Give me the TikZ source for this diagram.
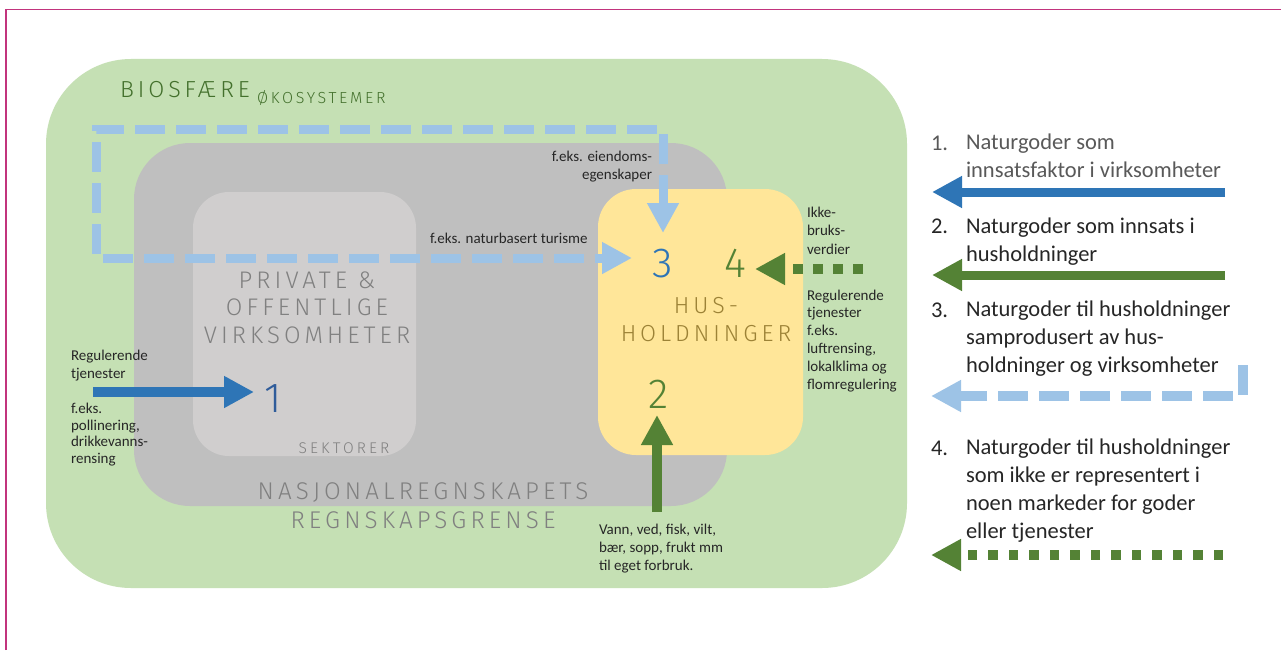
\documentclass[tikz,border=0pt]{standalone}
\usepackage{fontspec}
\setmainfont{Carlito}
\newfontfamily\thinf{Fira Sans Light}[LetterSpace=17]
\usetikzlibrary{arrows.meta}
\definecolor{bggreen}{HTML}{C5E0B4}
\definecolor{accgray}{HTML}{BFBFBF}
\definecolor{secgray}{HTML}{D0CECE}
\definecolor{hhyellow}{HTML}{FFE699}
\definecolor{dblue}{HTML}{2E75B6}
\definecolor{numblue}{HTML}{2F5C9A}
\definecolor{lblue}{HTML}{9DC3E6}
\definecolor{dgreen}{HTML}{548235}
\definecolor{biotext}{HTML}{43702C}
\definecolor{headgray}{HTML}{808080}
\definecolor{hhtext}{HTML}{9C8236}
\definecolor{txtdark}{HTML}{262626}
\definecolor{txtgray}{HTML}{595959}
\definecolor{framemag}{HTML}{C2347D}
\begin{document}
\begin{tikzpicture}[x=1pt,y=-1pt,
  every node/.style={inner sep=0pt, outer sep=0pt},
  smalltxt/.style={font=\fontsize{15}{17.8}\selectfont, text=txtdark, align=left, anchor=base west},
  legtxt/.style={font=\fontsize{22.5}{27.7}\selectfont, text=txtdark, align=left, anchor=base west},
  headtxt/.style={font=\thinf\fontsize{22}{28}\selectfont, text=headgray, align=center, anchor=base},
  numtxt/.style={font=\thinf\fontsize{42}{42}\selectfont, anchor=base},
  tipshape/.style={-{Triangle[length=30pt,width=30pt]}},
  solidarrow/.style={tipshape, line width=10pt},
  dasharrow/.style={line width=9pt, color=lblue, dash pattern=on 30pt off 11pt},
  dotarrow/.style={tipshape, line width=10pt, color=dgreen, dash pattern=on 10pt off 10pt}
]
\useasboundingbox (0,0) rectangle (1281,650);
\fill[white] (0,0) rectangle (1281,650);
% frame
\draw[framemag, line width=1.5pt] (6,650) -- (6,9.5) -- (1281,9.5);
% regions
\fill[bggreen, rounded corners=85pt] (46,59) rectangle (907,588);
\fill[accgray, rounded corners=56pt] (134,143) rectangle (727,506);
\fill[secgray, rounded corners=36pt] (193,192) rectangle (416,456);
\fill[hhyellow, rounded corners=38pt] (598,189) rectangle (803,455);

% region labels
\node[headtxt, text=biotext, anchor=base west, font=\thinf\fontsize{23.2}{28}\selectfont] (bio) at (120,98) {BIOSFÆRE};
\node[headtxt, text=biotext, anchor=base west, font=\thinf\fontsize{16}{18}\selectfont] (oko) at (257,103) {ØKOSYSTEMER};
\node[headtxt, font=\thinf\fontsize{24}{27.5}\selectfont] (priv) at (307,343) {PRIVATE \&\\OFFENTLIGE\\VIRKSOMHETER};
\node[headtxt, font=\thinf\fontsize{15.5}{16}\selectfont\addfontfeature{LetterSpace=20}] (sek) at (344,453) {SEKTORER};
\node[headtxt, font=\thinf\fontsize{24.2}{29}\selectfont] (nasj) at (423,528) {NASJONALREGNSKAPETS\\REGNSKAPSGRENSE};
\node[headtxt, text=hhtext, font=\thinf\fontsize{23.2}{28}\selectfont] (hh) at (706,341) {HUS-\\HOLDNINGER};

% numbers
\node[numtxt, text=numblue] (n1) at (273,412) {1};
\node[numtxt, text=dgreen] (n2) at (659,408) {2};
\node[numtxt, text=dblue] (n3) at (663,277) {3};
\node[numtxt, text=dgreen] (n4) at (735,277) {4};

% small texts
\node[smalltxt, align=right, anchor=base east] (eiend) at (652,179) {f.eks. eiendoms-\\egenskaper};
\node[smalltxt] (turis) at (430,243) {f.eks. naturbasert turisme};
\node[smalltxt, font=\fontsize{15}{17.8}\selectfont] (reg1) at (71,378) {Regulerende\\tjenester};
\node[smalltxt, font=\fontsize{15}{16.5}\selectfont] (poll) at (71,463) {f.eks.\\pollinering,\\drikkevanns-\\rensing};
\node[smalltxt, font=\fontsize{15}{18.5}\selectfont] (ikke) at (807,254) {Ikke-\\bruks-\\verdier};
\node[smalltxt] (reg4) at (807,389) {Regulerende\\tjenester\\f.eks.\\luftrensing,\\lokalklima og\\flomregulering};
\node[smalltxt, font=\fontsize{15}{18}\selectfont] (vann) at (599,570) {Vann, ved, fisk, vilt,\\bær, sopp, frukt mm\\til eget forbruk.};

% connectors in the diagram
\coordinate (a1s) at (93,392);
\coordinate (a1t) at (254,392);
\draw[solidarrow, dblue] (a1s) -- (a1t);
\coordinate (a2s) at (657,512);
\coordinate (a2t) at (657,415);
\draw[solidarrow, dgreen] (a2s) -- (a2t);
\coordinate (a4s) at (863,269);
\coordinate (a4t) at (755,269);
\draw[dotarrow] (a4s) -- (a4t);
\coordinate (a3top) at (663,233);
\coordinate (a3side) at (632,258);
\draw[dasharrow, {Triangle[length=30pt,width=30pt]}-{Triangle[length=30pt,width=30pt]}]
  (a3top) -- (663,129) -- (96,129) -- (96,258) -- (a3side);

% legend
\node[legtxt, text=txtgray] (l1n) at (931,150) {1.};
\node[legtxt, text=txtgray] (l1t) at (966,177) {Naturgoder som\\innsatsfaktor i virksomheter};
\node[legtxt] (l2n) at (931,233) {2.};
\node[legtxt] (l2t) at (966,261) {Naturgoder som innsats i\\husholdninger};
\node[legtxt] (l3n) at (931,317) {3.};
\node[legtxt] (l3t) at (966,372) {Naturgoder til husholdninger\\samprodusert av hus-\\holdninger og virksomheter};
\node[legtxt] (l4n) at (931,455) {4.};
\node[legtxt] (l4t) at (966,538) {Naturgoder til husholdninger\\som ikke er representert i\\noen markeder for goder\\eller tjenester};

\coordinate (l1s) at (1225,192);
\coordinate (l1e) at (932,192);
\draw[solidarrow, dblue, line width=9pt] (l1s) -- (l1e);
\coordinate (l2s) at (1225,275);
\coordinate (l2e) at (932,275);
\draw[solidarrow, dgreen, line width=9pt] (l2s) -- (l2e);
\coordinate (l3s) at (1243,365);
\coordinate (l3e) at (931,396);
\draw[dasharrow, line width=10pt, tipshape] (l3s) -- (1243,396) -- (l3e);
\coordinate (l4s) at (1223,555);
\coordinate (l4e) at (931,555);
\draw[dotarrow, line width=9.5pt, dash pattern=on 9.5pt off 11pt] (l4s) -- (l4e);
\end{tikzpicture}
\end{document}
